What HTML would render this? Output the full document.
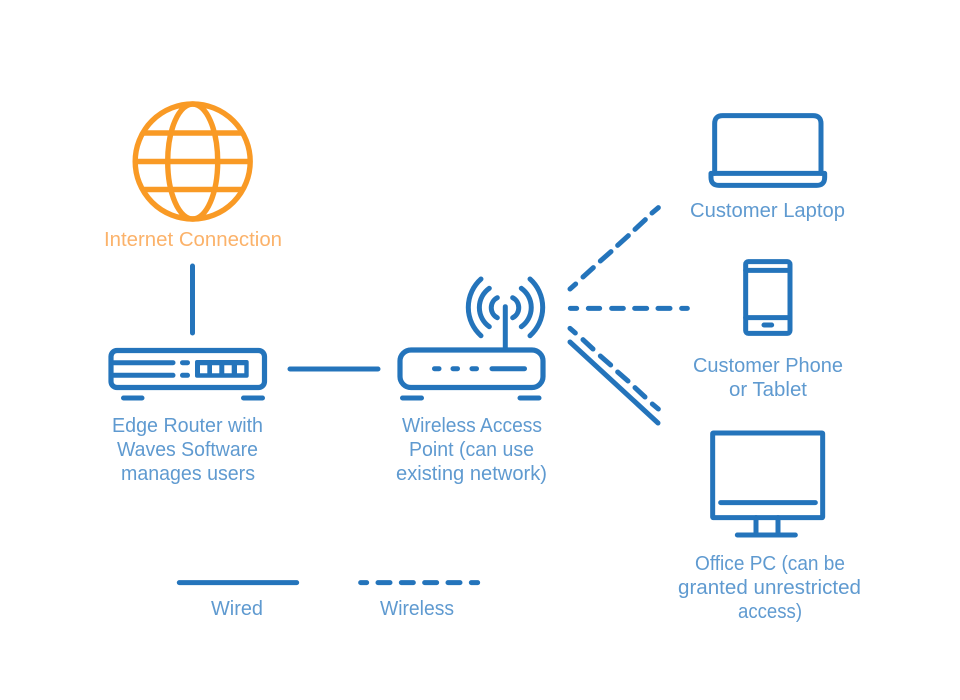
<!DOCTYPE html>
<html>
<head>
<meta charset="utf-8">
<style>
html,body{margin:0;padding:0;background:#fff;width:960px;height:700px;overflow:hidden}
svg{display:block}
text{font-family:"Liberation Sans",sans-serif;font-size:20px;fill:#5f9ad0}
.o{fill:#fbb26a}
</style>
</head>
<body>
<svg width="960" height="700" viewBox="0 0 960 700" xmlns="http://www.w3.org/2000/svg">
<rect width="960" height="700" fill="#fff"/>

<!-- Globe -->
<g fill="none" stroke="#f99a25" stroke-width="5.4">
<circle cx="192.7" cy="161.5" r="57.5"/>
<ellipse cx="192.7" cy="161.5" rx="25" ry="57.5"/>
<path d="M143 133H242M137 161.5H248M143 189.5H242"/>
</g>

<g fill="none" stroke="#2474bb" stroke-linecap="round" stroke-linejoin="round">
<!-- wired links -->
<path d="M192.5 266V333M290 369H378" stroke-width="5"/>

<!-- Edge router -->
<rect x="111" y="350.5" width="153.5" height="37" rx="6" stroke-width="5.2"/>
<path d="M112 362.7H173M112 375.3H173M182.5 362.7H187.5M182.5 375.3H187.5" stroke-width="5"/>
<path d="M123.5 398H142M243.5 398H262.5" stroke-width="5"/>
<rect x="195" y="360" width="53.7" height="17.7" rx="2" fill="#2474bb" stroke="none"/>
<path d="M200 365.3h7.3v8h-7.3zM212 365.3h7.3v8h-7.3zM224.3 365.3h7.4v8h-7.4zM237 365.3h7.3v8h-7.3z" fill="#fff" stroke="none"/>

<!-- Access point -->
<rect x="400" y="350" width="143" height="37.5" rx="11" stroke-width="5.2"/>
<path d="M434.5 368.7H439M453 368.7H457.5M472 368.7H476.5M492 368.7H524.5" stroke-width="5"/>
<path d="M402.5 398H421.5M520 398H539" stroke-width="5"/>
<path d="M505.3 306.7V350" stroke-width="5"/>
<path d="M481 279A38 38 0 0 0 481 335.7M489.3 288.3A23.5 23.5 0 0 0 489.3 326.7M497.3 297.7A11.3 11.3 0 0 0 497.3 317.7M530 279A38 38 0 0 1 530 335.7M521.3 288.3A23.5 23.5 0 0 1 521.3 326.7M512.7 297.7A11.3 11.3 0 0 1 512.7 317.7" stroke-width="5"/>

<!-- wireless / wired fan, in 3x zoom coordinates -->
<g transform="translate(550 195) scale(.33333)" stroke-width="15">
<path d="M60 282L77 267M99 246L130 218M151 198L183 170M203 151L235 122M255 103L286 74M306 54L325 38"/>
<path d="M61 340H80M115 340H149M185 340H220M254 340H290M324 340H360M395 340H412"/>
<path d="M60 400L76 414M99 434L129 462M151 483L182 510M203 531L234 558M255 578L285 606M307 627L325 642"/>
<path d="M60 441L324 684"/>
</g>

<!-- Laptop -->
<g transform="translate(695 100) scale(.33333)" stroke-width="15">
<path d="M59 220V71Q59 47 83 47H354Q378 47 378 71V220"/>
<path d="M48 220H389V232Q389 256 365 256H72Q48 256 48 232Z"/>
</g>

<!-- Phone -->
<g transform="translate(730 250) scale(.33333)" stroke-width="15">
<rect x="47" y="35" width="133" height="215" rx="8"/>
<path d="M47 61H180M47 203H180M102 225H125"/>
</g>

<!-- Monitor -->
<g transform="translate(700 420) scale(.33333)" stroke-width="15">
<rect x="38" y="39" width="330" height="254" rx="2"/>
<path d="M62 248H346M168 293V340M234 293V340M112 345H286"/>
</g>

<!-- Legend -->
<g transform="translate(170 570) scale(.33333)" stroke-width="15">
<path d="M28 38H380"/>
<path d="M572 38H590M624 38H660M694 38H730M764 38H800M834 38H870M904 38H923"/>
</g>
</g>

<!-- Labels -->
<text class="o" x="104" y="246" textLength="178" lengthAdjust="spacingAndGlyphs">Internet Connection</text>
<text x="112" y="432" textLength="151" lengthAdjust="spacingAndGlyphs">Edge Router with</text>
<text x="117" y="456" textLength="141" lengthAdjust="spacingAndGlyphs">Waves Software</text>
<text x="121" y="480" textLength="134" lengthAdjust="spacingAndGlyphs">manages users</text>
<text x="402" y="432" textLength="140" lengthAdjust="spacingAndGlyphs">Wireless Access</text>
<text x="409" y="456" textLength="125" lengthAdjust="spacingAndGlyphs">Point (can use</text>
<text x="396" y="480" textLength="151" lengthAdjust="spacingAndGlyphs">existing network)</text>
<text x="690" y="217" textLength="155" lengthAdjust="spacingAndGlyphs">Customer Laptop</text>
<text x="693" y="372" textLength="150" lengthAdjust="spacingAndGlyphs">Customer Phone</text>
<text x="729" y="396" textLength="78" lengthAdjust="spacingAndGlyphs">or Tablet</text>
<text x="695" y="570" textLength="150" lengthAdjust="spacingAndGlyphs">Office PC (can be</text>
<text x="678" y="594" textLength="183" lengthAdjust="spacingAndGlyphs">granted unrestricted</text>
<text x="738" y="618" textLength="64" lengthAdjust="spacingAndGlyphs">access)</text>
<text x="211" y="615" textLength="52" lengthAdjust="spacingAndGlyphs">Wired</text>
<text x="380" y="615" textLength="74" lengthAdjust="spacingAndGlyphs">Wireless</text>
</svg>
</body>
</html>
